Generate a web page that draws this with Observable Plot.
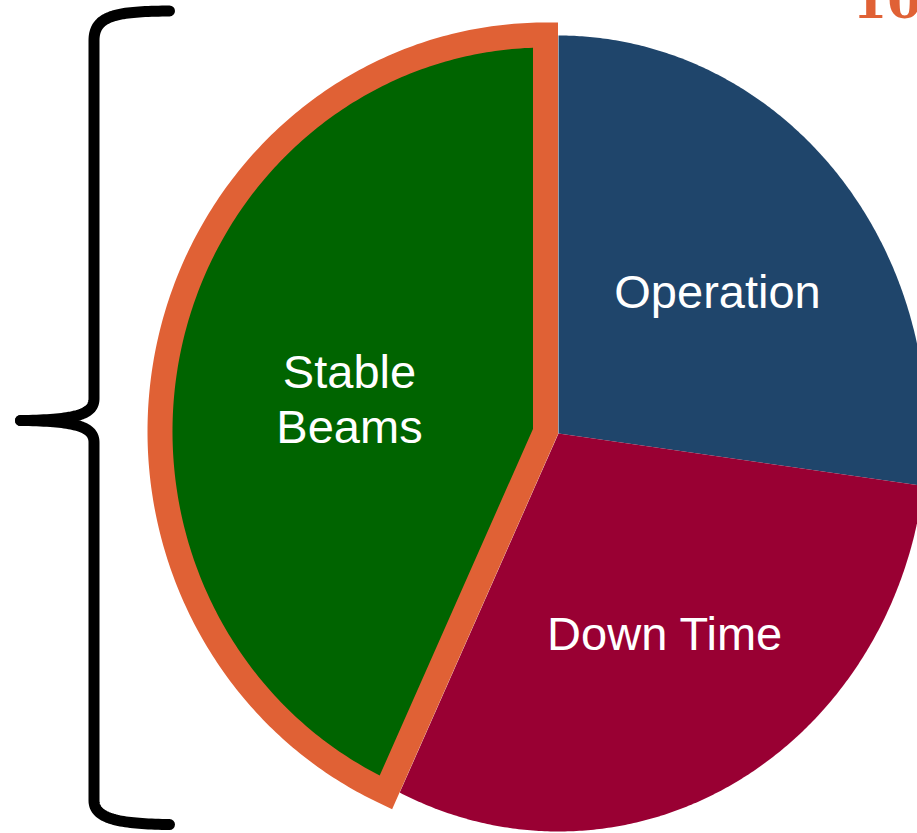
<!DOCTYPE html>
<html>
<head>
<meta charset="utf-8">
<script src="https://cdn.jsdelivr.net/npm/d3@7"></script>
<script src="https://cdn.jsdelivr.net/npm/@observablehq/plot@0.6"></script>
<style>
  html, body { margin: 0; padding: 0; background: #ffffff; overflow: hidden; }
  #chart svg { display: block; }
</style>
</head>
<body>
<div id="chart"></div>
<script>
// ---- data ----
const categories = ["Operation", "Down Time", "Stable Beams"];
const shares = [27.1, 30.0, 42.9];           // percent of time, clockwise from 12 o'clock
const labelText = ["Operation", "Down Time", "Stable\nBeams"];
const highlighted = "Stable Beams";
const headline = ["100%"];                     // cut-off annotation top right

// ---- layout / style ----
const W = 917, H = 833;
const palette = ["#1f456b", "#990033", "#006400"];
const accent = "#e06135";
const mainPie = {cx: 558, cy: 433, rx: 368, ry: 398};
const explodedPie = {cx: 545, cy: 431, rx: 385.5, ry: 396.5};
const labelRadius = 0.56;
const labelNudge = {"Operation": [4, 4], "Down Time": [8, 3], "Stable Beams": [14, 18]};

// brace decoration (cubic segments, pixel space)
const braceSegments = [
  [[169,10.5],[118,11],[93.5,14],[93.5,40]],
  [[93.5,40],[93.5,200],[93.5,300],[93.5,398]],
  [[93.5,398],[93.5,413],[78,419.5],[20,420]],
  [[20,420],[78,420.5],[93.5,427],[93.5,442]],
  [[93.5,442],[93.5,600],[93.5,700],[93.5,800]],
  [[93.5,800],[93.5,818],[118,823.5],[169,824]]
];

// ---- geometry ----
const arcs = d3.pie().sort(null).value(d => d).startAngle(0).endAngle(2 * Math.PI)(shares);

function pt(p, a, k = 1) {
  return {x: p.cx + k * p.rx * Math.sin(a), y: p.cy - k * p.ry * Math.cos(a)};
}
// angle on the exploded ellipse whose edge runs parallel to the main pie's edge at angle a
function parallelAngle(a) {
  const f = (mainPie.rx / explodedPie.rx) / (mainPie.ry / explodedPie.ry);
  const sx = f * Math.sin(a), cy = Math.cos(a);
  let b = Math.atan2(sx, cy);
  if (b < 0) b += 2 * Math.PI;
  if (a >= 2 * Math.PI - 1e-9) b = 2 * Math.PI;
  return b;
}

const slices = arcs.map((arc, i) => {
  const name = categories[i];
  const exploded = name === highlighted;
  const p = exploded ? explodedPie : mainPie;
  const a0 = exploded ? parallelAngle(arc.startAngle) : arc.startAngle;
  const a1 = exploded ? parallelAngle(arc.endAngle) : arc.endAngle;
  const n = 240;
  const pts = [{name, ...pt(p, 0, 0)}];
  for (let j = 0; j <= n; j++) {
    const a = a0 + (a1 - a0) * j / n;
    pts.push({name, ...pt(p, a)});
  }
  const mid = (arc.startAngle + arc.endAngle) / 2;
  const lp = pt(p, exploded ? parallelAngle(mid) : mid, labelRadius);
  const nudge = labelNudge[name];
  return {name, exploded, pts, label: {name, text: labelText[i], x: lp.x + nudge[0], y: lp.y + nudge[1]}};
});

function bezier(seg, n = 40) {
  const [p0, p1, p2, p3] = seg, out = [];
  for (let j = 0; j <= n; j++) {
    const t = j / n, u = 1 - t;
    out.push({
      x: u*u*u*p0[0] + 3*u*u*t*p1[0] + 3*u*t*t*p2[0] + t*t*t*p3[0],
      y: u*u*u*p0[1] + 3*u*u*t*p1[1] + 3*u*t*t*p2[1] + t*t*t*p3[1]
    });
  }
  return out;
}
const braceUpper = braceSegments.slice(0, 3).flatMap(s => bezier(s));
const braceLower = braceSegments.slice(3).flatMap(s => bezier(s));

const plainSlices = slices.filter(s => !s.exploded);
const hiSlices = slices.filter(s => s.exploded);

const chart = Plot.plot({
  width: W,
  height: H,
  margin: 0,
  style: {background: "#ffffff", overflow: "hidden"},
  x: {domain: [0, W], range: [0, W], axis: null},
  y: {domain: [0, H], range: [0, H], axis: null},
  color: {domain: categories, range: palette},
  marks: [
    ...plainSlices.map(s => Plot.line(s.pts, {x: "x", y: "y", fill: "name", stroke: "none", curve: "linear-closed"})),
    ...hiSlices.map(s => Plot.line(s.pts, {x: "x", y: "y", fill: "name", stroke: accent, strokeWidth: 25, strokeLinejoin: "miter", strokeMiterlimit: 10, curve: "linear-closed"})),
    Plot.text(slices.map(s => s.label), {
      x: "x", y: "y", text: "text",
      fill: "white", fontSize: 47, fontFamily: "Liberation Sans, Arial, sans-serif",
      textAnchor: "middle", lineAnchor: "middle", lineHeight: 1.17
    }),
    Plot.line(braceUpper, {x: "x", y: "y", stroke: "black", strokeWidth: 11, strokeLinejoin: "round"}),
    Plot.line(braceLower, {x: "x", y: "y", stroke: "black", strokeWidth: 11, strokeLinejoin: "round"}),
    Plot.text(headline, {
      x: () => 852, y: () => 17, text: d => d,
      fill: accent, fontSize: 50, fontWeight: "bold", fontFamily: "DejaVu Serif, serif",
      textAnchor: "start", lineAnchor: "bottom"
    })
  ]
});
document.getElementById("chart").appendChild(chart);
</script>
</body>
</html>
